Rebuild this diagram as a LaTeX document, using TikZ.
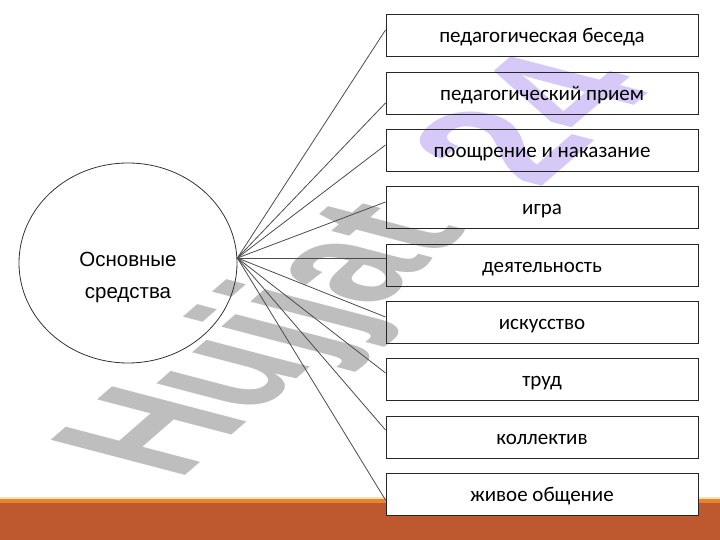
\documentclass[tikz,border=0pt]{standalone}
\usepackage{fontspec}
\setmainfont{Carlito}
\newfontfamily\arialf{Liberation Sans}
\usetikzlibrary{shapes.geometric}
\definecolor{barDark}{RGB}{190,88,46}
\definecolor{barMid}{RGB}{232,132,44}
\definecolor{barPale}{RGB}{252,226,176}
\definecolor{wmGray}{RGB}{190,190,190}
\definecolor{wmLav}{RGB}{214,200,247}
\begin{document}
\begin{tikzpicture}[x=1pt,y=1pt,
  box/.style={draw=black!85, line width=1pt, minimum width=312pt, minimum height=42pt, inner sep=0pt, text height=18pt, text depth=4pt, font=\fontsize{21}{24}\selectfont},
  conn/.style={draw=black!70, line width=0.8pt},
  wm/.style={anchor=base west, inner sep=0pt, transform shape, font=\arialf\bfseries\fontsize{100}{100}\selectfont}]
\useasboundingbox (0,0) rectangle (720,540);
\fill[white] (0,0) rectangle (720,540);
\fill[barDark] (0,0) rectangle (720,37);
\fill[barMid] (0,37) rectangle (720,41);
\fill[barPale] (0,41) rectangle (720,43);
% watermark
\begin{scope}[cm={1.045,0.91,-1.953,0.511,(178,58)}]
\node[wm, text=wmGray] (wmA) at (0,0) {Hujjat};
\end{scope}
\begin{scope}[cm={1.09,0.95,-2.0,0.525,(538,350)}]
\node[wm, text=wmLav] (wmB) at (0,0) {24};
\end{scope}
% main ellipse
\node[ellipse, draw=black!80, line width=0.8pt, minimum width=218pt, minimum height=200pt, inner sep=0pt] (main) at (128,277) {};
\node[font=\arialf\fontsize{20.5}{32}\selectfont, align=center, inner sep=0pt] (lbl) at (128,263) {Основные\\средства};
\coordinate (hub) at ([yshift=5pt]main.east);
% boxes
\node[box] (b1) at (542,504) {педагогическая беседа};
\node[box] (b2) at (542,446.7) {педагогический прием};
\node[box] (b3) at (542,389.4) {поощрение и наказание};
\node[box] (b4) at (542,332.1) {игра};
\node[box] (b5) at (542,274.8) {деятельность};
\node[box] (b6) at (542,217.5) {искусство};
\node[box] (b7) at (542,160.2) {труд};
\node[box] (b8) at (542,102.9) {коллектив};
\node[box, fill=white] (b9) at (542,45.6) {живое общение};
% connectors
\draw[conn] (hub) -- ([yshift=6pt]b1.west);
\draw[conn] (hub) -- ([yshift=-9.7pt]b2.west);
\draw[conn] (hub) -- ([yshift=5.6pt]b3.west);
\draw[conn] (hub) -- ([yshift=5.9pt]b4.west);
\draw[conn] (hub) -- ([yshift=7.2pt]b5.west);
\draw[conn] (hub) -- ([yshift=5.5pt]b6.west);
\draw[conn] (hub) -- ([yshift=6.8pt]b7.west);
\draw[conn] (hub) -- ([yshift=7.1pt]b8.west);
\draw[conn] (hub) -- ([yshift=-5.6pt]b9.west);
\end{tikzpicture}
\end{document}
